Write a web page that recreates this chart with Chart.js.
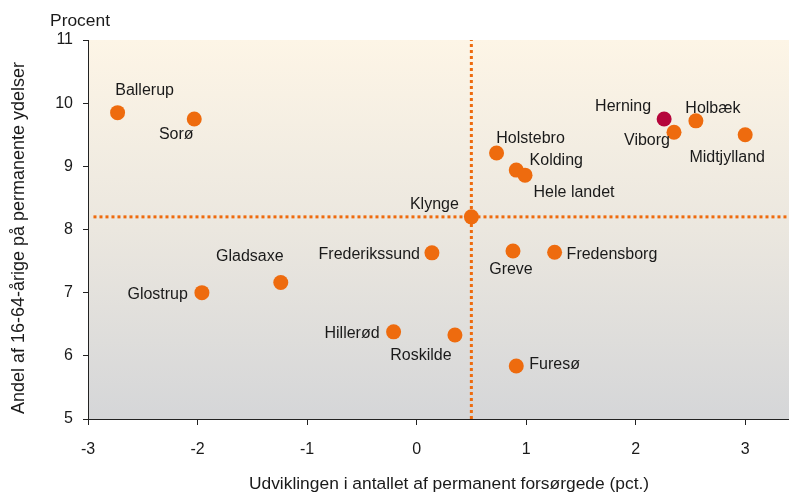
<!DOCTYPE html>
<html>
<head>
<meta charset="utf-8">
<script src="https://cdn.jsdelivr.net/npm/chart.js@4.4.0/dist/chart.umd.min.js"></script>
<style>
  html, body { margin: 0; padding: 0; background: #fff; }
  #wrap { width: 789px; height: 493px; }
</style>
</head>
<body>
<div id="wrap"><canvas id="chart" width="789" height="493"></canvas></div>
<script>
// data
const names = ["Ballerup", "Sorø", "Herning", "Viborg", "Holbæk", "Midtjylland", "Holstebro",
    "Kolding", "Hele landet", "Klynge", "Frederikssund", "Greve", "Fredensborg", "Glostrup",
    "Gladsaxe", "Hillerød", "Roskilde", "Furesø"];
const udvikling = [-2.73, -2.03, 2.26, 2.35, 2.55, 3.0, 0.73, 0.91, 0.99, 0.50, 0.14, 0.88, 1.26,
    -1.96, -1.24, -0.21, 0.35, 0.91];
const andel = [9.85, 9.75, 9.75, 9.54, 9.72, 9.50, 9.21, 8.94, 8.86, 8.20, 7.63, 7.66, 7.64,
    7.00, 7.16, 6.38, 6.33, 5.84];
const highlight = "Herning";
const xTicks = [-3, -2, -1, 0, 1, 2, 3];
const yTicks = [5, 6, 7, 8, 9, 10, 11];

// label placement: [dx, dy, align]
const labelPlace = {
    "Ballerup": [27, -24, "center"],
    "Sorø": [-18, 14, "center"],
    "Herning": [-41, -14, "center"],
    "Viborg": [-27, 6, "center"],
    "Holbæk": [17, -14, "center"],
    "Midtjylland": [-18, 21, "center"],
    "Holstebro": [34, -16, "center"],
    "Kolding": [40, -12, "center"],
    "Hele landet": [49, 15, "center"],
    "Klynge": [-37, -14, "center"],
    "Frederikssund": [-12, 0, "right"],
    "Greve": [-2, 17, "center"],
    "Fredensborg": [12, 0, "left"],
    "Glostrup": [-14, 0, "right"],
    "Gladsaxe": [-31, -28, "center"],
    "Hillerød": [-14, 0, "right"],
    "Roskilde": [-34, 19, "center"],
    "Furesø": [13, -3, "left"]
};

const orange = "#ee6b0e";
const points = names.map((n, i) => ({ x: udvikling[i], y: andel[i], name: n }));
const klynge = points[names.indexOf("Klynge")];
const font = "Arial, 'Liberation Sans', sans-serif";

const bgPlugin = {
    id: "bg",
    beforeDraw(chart) {
        const { ctx, chartArea: a } = chart;
        const g = ctx.createLinearGradient(0, a.top, 0, a.bottom);
        g.addColorStop(0, "#fdf5e6");
        g.addColorStop(0.5, "#ebe7df");
        g.addColorStop(1, "#d5d6d8");
        ctx.save();
        ctx.fillStyle = g;
        ctx.fillRect(a.left, a.top, a.right - a.left, a.bottom - a.top);
        ctx.restore();
    },
    afterDraw(chart) {
        const { ctx } = chart;
        const meta = chart.getDatasetMeta(2);
        ctx.save();
        ctx.fillStyle = "#1a1a1a";
        ctx.font = "16px " + font;
        ctx.textBaseline = "middle";
        meta.data.forEach((el, i) => {
            const p = labelPlace[names[i]];
            ctx.textAlign = p[2];
            ctx.fillText(names[i], el.x + p[0], el.y + p[1] + 2);
        });
        ctx.font = "17.4px " + font;
        ctx.textAlign = "center";
        ctx.fillText("Procent", 80, 21);
        ctx.fillText("Udviklingen i antallet af permanent forsørgede (pct.)", 449, 484);
        ctx.font = "18px " + font;
        ctx.translate(19, 238);
        ctx.rotate(-Math.PI / 2);
        ctx.fillText("Andel af 16-64-årige på permanente ydelser", 0, 0);
        ctx.restore();
    }
};

new Chart(document.getElementById("chart"), {
    type: "scatter",
    data: {
        datasets: [
            {
                type: "line",
                data: [{ x: klynge.x, y: 5 }, { x: klynge.x, y: 11 }],
                borderColor: orange,
                borderWidth: 3,
                borderDash: [3, 3],
                pointRadius: 0,
                order: 2
            },
            {
                type: "line",
                data: [{ x: -2.95, y: klynge.y }, { x: 3.4, y: klynge.y }],
                borderColor: orange,
                borderWidth: 3,
                borderDash: [3, 3],
                pointRadius: 0,
                order: 2
            },
            {
                data: points,
                backgroundColor: names.map(n => n === highlight ? "#b5053b" : orange),
                borderWidth: 0,
                pointRadius: 7.5,
                pointHoverRadius: 7.5,
                order: 1
            }
        ]
    },
    options: {
        responsive: false,
        animation: false,
        layout: { autoPadding: false, padding: { top: 40, right: 0, left: 0, bottom: 0 } },
        plugins: { legend: { display: false }, tooltip: { enabled: false } },
        scales: {
            x: {
                type: "linear",
                min: -3,
                max: 3.4,
                afterBuildTicks: s => { s.ticks = xTicks.map(v => ({ value: v })); },
                afterFit: s => { s.height = 74; s.paddingRight = 0; },
                ticks: { color: "#1a1a1a", font: { size: 16, family: font }, padding: 15 },
                grid: { drawOnChartArea: false, tickLength: 6, color: "#222" },
                border: { color: "#222", width: 1 }
            },
            y: {
                min: 5,
                max: 11,
                afterBuildTicks: s => { s.ticks = yTicks.map(v => ({ value: v })); },
                afterFit: s => { s.width = 88; },
                ticks: { color: "#1a1a1a", font: { size: 16, family: font }, padding: 10 },
                grid: { drawOnChartArea: false, tickLength: 5, color: "#222" },
                border: { color: "#222", width: 1 }
            }
        }
    },
    plugins: [bgPlugin]
});
</script>
</body>
</html>
